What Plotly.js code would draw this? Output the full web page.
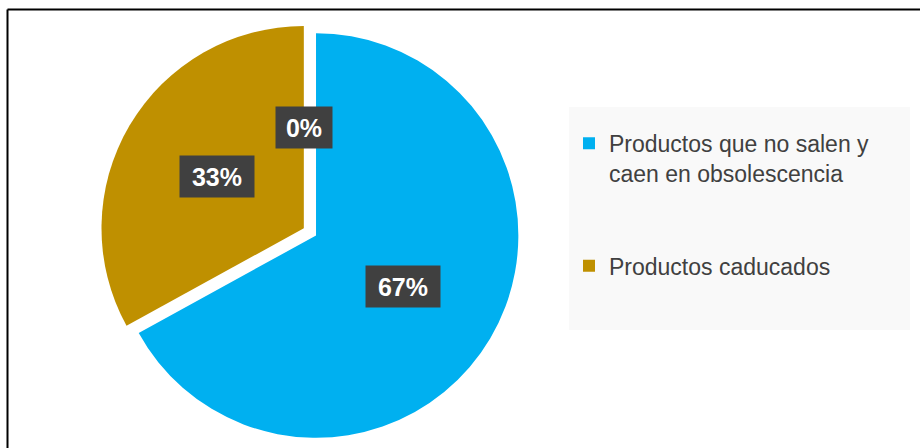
<!DOCTYPE html>
<html>
<head>
<meta charset="utf-8">
<script src="https://cdn.plot.ly/plotly-3.0.1.min.js"></script>
<style>
html,body{margin:0;padding:0;overflow:hidden;background:#ffffff;}
#chart{width:920px;height:452px;}
</style>
</head>
<body>
<div id="chart"></div>
<script>
// ---- data ----
const categories = ["Productos que no salen y<br>caen en obsolescencia", "Productos caducados", ""];
const values = [67, 33, 0];
const sliceColors = ["#00B0F0", "#BF9000", "#A5A5A5"];
const pulls = [0, 0.07, 0];

// ---- layout constants ----
const W = 920, H = 452;
const M = {l: 0, r: 0, t: 19, b: 0};
const pieDomain = {x: [0, 0.687], y: [0, 1]};
const FONT = "Liberation Sans, Arial, sans-serif";
const LEGEND_PAD = "<br>\u00a0<br>\u00a0";

const total = values.reduce((a, b) => a + b, 0);
const shown = values.map((v, i) => i).filter(i => values[i] > 0);

// pie geometry as Plotly computes it
const pw = W - M.l - M.r, ph = H - M.t - M.b;
const availW = pw * (pieDomain.x[1] - pieDomain.x[0]);
const availH = ph * (pieDomain.y[1] - pieDomain.y[0]);
const maxPull = Math.max(...shown.map(i => pulls[i]));
const R = Math.min(availW, availH) / (2 + 2 * maxPull);
const CX = M.l + pw * (pieDomain.x[0] + pieDomain.x[1]) / 2;
const CY = M.t + ph * (1 - pieDomain.y[0]) - availH / 2;

const toPaperX = px => (px - M.l) / pw;
const toPaperY = py => 1 - (py - M.t) / ph;

// label annotations (percent boxes)
const annotations = [];
let cum = 0;
let prevOff = [0, 0];
values.forEach((v, i) => {
  const span = v / total * 360;
  const mid = (cum + span / 2) * Math.PI / 180;
  cum += span;
  const sx = Math.sin(mid), sy = -Math.cos(mid);
  // an empty slice sits with its exploded neighbour
  const off = v > 0 ? [sx * R * pulls[i], sy * R * pulls[i]] : prevOff;
  prevOff = off;
  const lx = CX + off[0] + sx * R * 0.5;
  const ly = CY + off[1] + sy * R * 0.5;
  const txt = Math.round(v / total * 100) + "%";
  annotations.push({
    xref: "paper", yref: "paper",
    x: toPaperX(lx), y: toPaperY(ly),
    xanchor: "center", yanchor: "middle",
    text: txt, showarrow: false,
    font: {family: FONT, size: 25, color: "#ffffff", weight: "bold"},
    bgcolor: "#404040", borderpad: 5,
    width: 18 * txt.length + 10, height: 31
  });
});

const data = [{
  type: "pie",
  labels: shown.map(i => categories[i] + LEGEND_PAD),
  values: shown.map(i => values[i]),
  marker: {colors: shown.map(i => sliceColors[i]), line: {width: 0}},
  pull: shown.map(i => pulls[i]),
  sort: false,
  direction: "clockwise",
  rotation: 0,
  textinfo: "none",
  hoverinfo: "none",
  domain: pieDomain,
  showlegend: true
}];

const layout = {
  width: W, height: H,
  margin: M,
  paper_bgcolor: "#ffffff",
  showlegend: true,
  legend: {
    x: toPaperX(569), xanchor: "left",
    y: toPaperY(121.8), yanchor: "top",
    bgcolor: "rgba(0,0,0,0)", borderwidth: 0,
    valign: "top",
    font: {family: FONT, size: 23, color: "#404040"}
  },
  annotations: annotations,
  shapes: [
    {type: "rect", xref: "paper", yref: "paper", layer: "below",
     x0: toPaperX(569), x1: toPaperX(910), y0: toPaperY(330), y1: toPaperY(107),
     fillcolor: "#F9F9F9", line: {width: 0}},
    {type: "line", xref: "paper", yref: "paper",
     x0: toPaperX(7.5), x1: toPaperX(920), y0: toPaperY(9.5), y1: toPaperY(9.5),
     line: {color: "#000000", width: 2}},
    {type: "line", xref: "paper", yref: "paper",
     x0: toPaperX(7.5), x1: toPaperX(7.5), y0: toPaperY(9.5), y1: toPaperY(460),
     line: {color: "#000000", width: 2}}
  ]
};

Plotly.newPlot("chart", data, layout, {staticPlot: true, displayModeBar: false});
</script>
</body>
</html>
